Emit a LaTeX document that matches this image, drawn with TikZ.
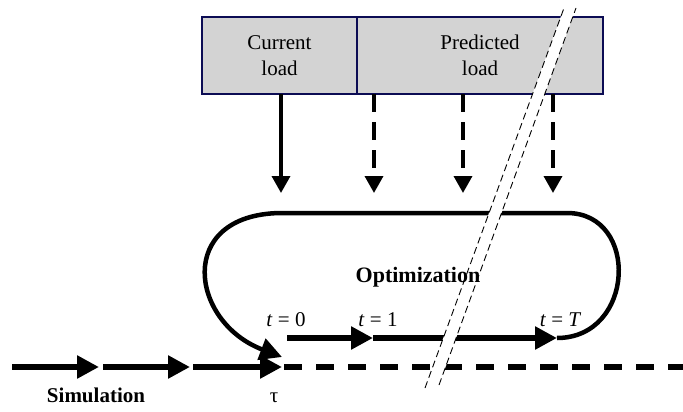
\documentclass[tikz,border=0pt]{standalone}
\usepackage{fontspec}
\setmainfont{Liberation Serif}
\usetikzlibrary{arrows.meta, positioning}
\definecolor{boxgray}{RGB}{211,211,211}
\definecolor{boxnavy}{RGB}{12,12,84}
\tikzset{
    loadbox/.style={draw=boxnavy, fill=boxgray, line width=2pt, minimum height=77pt,
        align=center, inner sep=0pt, outer sep=0pt, font=\fontsize{21}{26}\selectfont},
    feed/.style={line width=3.5pt, -{Triangle[length=17pt, width=18pt]}},
    forecast/.style={feed, dash pattern=on 18pt off 10pt},
    timeline/.style={line width=5.5pt, -{Triangle[length=22pt, width=22pt]}},
    horizon/.style={line width=5.5pt, dash pattern=on 18pt off 14pt},
    loopline/.style={line width=4.5pt, -{Triangle[length=22pt, width=22pt]}},
    cut/.style={line width=0.9pt, dash pattern=on 7pt off 4pt},
    lbl/.style={font=\fontsize{21}{25}\selectfont, inner sep=0pt}
}

\begin{document}
\begin{tikzpicture}[x=1pt, y=-1pt]
    \useasboundingbox (0,0) rectangle (683,412);
    % load boxes
    \node[loadbox, minimum width=155pt, anchor=north west] (cur) at (202,17) {Current\\load};
    \node[loadbox, minimum width=246pt, right=0pt of cur] (pred) {Predicted\\load};
    % load fed into the optimization
    \coordinate (in0) at (281,193);
    \draw[feed] (cur.south -| in0) -- (in0);
    \foreach \x/\n in {374/1, 463/2, 553/3} {
        \coordinate (in\n) at (\x,193);
        \draw[forecast] (pred.south -| in\n) -- (in\n);
    }
    % simulation time line
    \coordinate (s0) at (12,367);
    \coordinate (s1) at (99,367);
    \coordinate (s2) at (190,367);
    \coordinate (tau) at (282,367);
    \coordinate (far) at (683,367);
    \draw[timeline] (s0) -- (s1);
    \draw[timeline] ([xshift=4pt]s1) -- (s2);
    \draw[timeline] ([xshift=3pt]s2) -- (tau);
    \draw[horizon] ([xshift=2pt]tau) -- (far);
    % optimization horizon
    \coordinate (t0) at (287,338);
    \coordinate (t1) at (373,338);
    \coordinate (tT) at (557,338);
    \coordinate (back) at (282,357);
    \draw[timeline] (t0) -- (t1);
    \draw[timeline] (t1) -- (tT);
    \draw[loopline] (tT) .. controls (635,338) and (640,213) .. (567,213)
        -- (280,213) .. controls (175,215) and (190,322) .. (back);
    % break marks
    \coordinate (c1) at (425,388);
    \coordinate (c2) at (564,8);
    \coordinate (c3) at (576,8);
    \coordinate (c4) at (439,385);
    \fill[white] (c1) -- (c2) -- (c3) -- (c4) -- cycle;
    \draw[cut] (c1) -- (c2);
    \draw[cut] (c4) -- (c3);
    % labels
    \node[lbl, font=\fontsize{22}{26}\selectfont\bfseries] (opt) at (418,277) {Optimization};
    \node[lbl] (l0) at (286,320) {\itshape t\/\upshape{} = 0};
    \node[lbl] (l1) at (378,320) {\itshape t\/\upshape{} = 1};
    \node[lbl] (lT) at (560,320) {\itshape t\/\upshape{} = \itshape T};
    \node[lbl, font=\fontsize{21}{25}\selectfont\bfseries, anchor=base] (sim) at (96,402) {Simulation};
    \node[lbl, anchor=base] (taulbl) at (274,402) {τ};
\end{tikzpicture}
\end{document}
